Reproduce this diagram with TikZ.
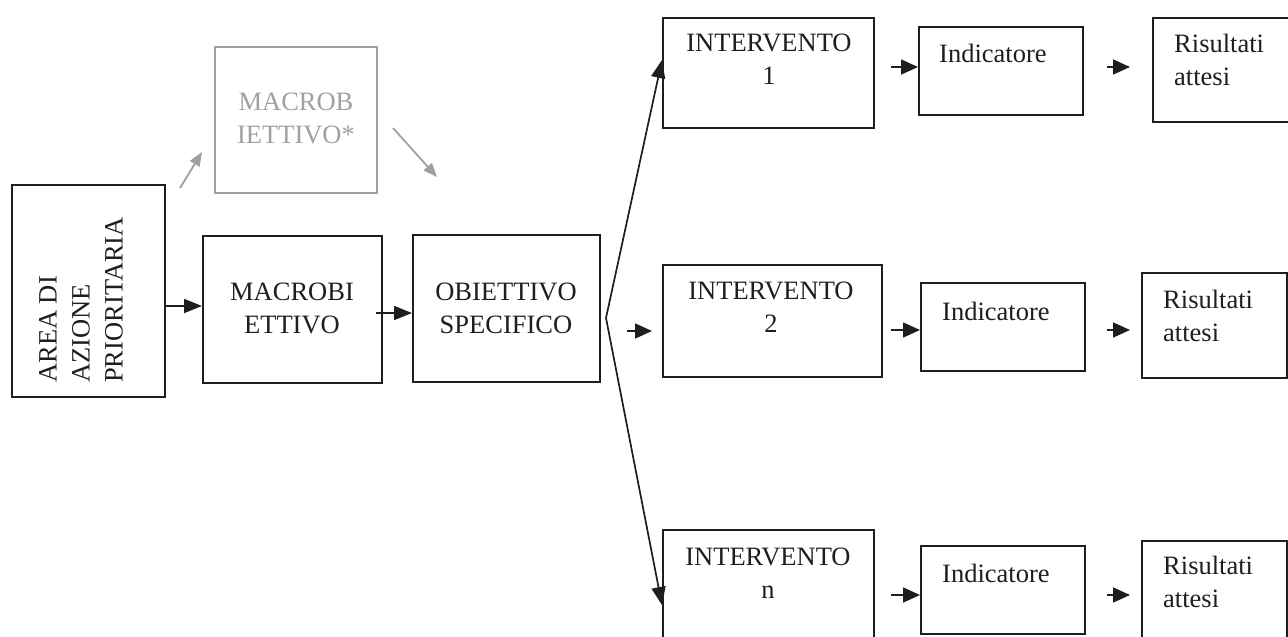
\documentclass[tikz,border=0pt]{standalone}
\usepackage{fontspec}
\setmainfont{Liberation Serif}
\usetikzlibrary{arrows.meta}
\definecolor{ink}{RGB}{30,30,30}
\definecolor{lgray}{RGB}{160,160,160}
\begin{document}
\begin{tikzpicture}[x=1pt,y=-1pt,
  box/.style={draw=ink, line width=2pt, inner sep=0pt, rectangle},
  gbox/.style={draw=lgray, line width=2pt, inner sep=0pt, rectangle},
  lbl/.style={font=\fontsize{26.5}{33}\selectfont, text=ink, align=center, inner sep=0pt},
  glbl/.style={lbl, text=lgray},
  llbl/.style={lbl, align=left},
  arr/.style={draw=ink, line width=1.7pt, -{Triangle[length=18pt,width=14pt]}},
  sarr/.style={draw=ink, line width=1.6pt, -{Triangle[length=17pt,width=15pt]}},
  garr/.style={draw=lgray, line width=1.8pt, -{Triangle[length=14pt,width=11pt]}}
]
\useasboundingbox (0,0) rectangle (1288,637);

% left part
\node[box, minimum width=153pt, minimum height=212pt] (area) at (88.5,291) {};
\node[lbl, align=left, rotate=90, anchor=west] (tarea) at (81,383) {AREA DI\\AZIONE\\PRIORITARIA};

\node[box, minimum width=179pt, minimum height=147pt] (macro) at (292.5,309.5) {};
\node[lbl, anchor=base] (tmacro) at (292,333) {MACROBI\\ETTIVO};

\node[box, minimum width=187pt, minimum height=147pt] (obiet) at (506.5,308.5) {};
\node[lbl, anchor=base] (tobiet) at (506,333) {OBIETTIVO\\SPECIFICO};

\node[gbox, minimum width=162pt, minimum height=146pt] (gmacro) at (296,120) {};
\node[glbl, anchor=base] (tgmacro) at (296,143) {MACROB\\IETTIVO*};

% interventi
\node[box, minimum width=211pt, minimum height=110pt] (i1) at (768.5,73) {};
\node[lbl, anchor=base] (ti1) at (769,84) {INTERVENTO\\1};
\node[box, minimum width=219pt, minimum height=112pt] (i2) at (772.5,321) {};
\node[lbl, anchor=base] (ti2) at (771,332) {INTERVENTO\\2};
\node[box, minimum width=211pt, minimum height=130pt] (in) at (768.5,595) {};
\node[lbl, anchor=base] (tin) at (768,598) {INTERVENTO\\n};

% indicatori
\node[box, minimum width=164pt, minimum height=88pt] (ind1) at (1001,71) {};
\node[llbl, anchor=base west] (tind1) at (939,62) {Indicatore};
\node[box, minimum width=164pt, minimum height=88pt] (ind2) at (1003,327) {};
\node[llbl, anchor=base west] (tind2) at (942,320) {Indicatore};
\node[box, minimum width=164pt, minimum height=88pt] (ind3) at (1003,590) {};
\node[llbl, anchor=base west] (tind3) at (942,582) {Indicatore};

% risultati
\node[box, minimum width=137pt, minimum height=104pt] (r1) at (1221.5,70) {};
\node[llbl, anchor=base west] (tr1) at (1174,85) {Risultati\\attesi};
\node[box, minimum width=145pt, minimum height=105pt] (r2) at (1214.5,325.5) {};
\node[llbl, anchor=base west] (tr2) at (1163,341) {Risultati\\attesi};
\node[box, minimum width=145pt, minimum height=119pt] (r3) at (1214.5,600.5) {};
\node[llbl, anchor=base west] (tr3) at (1163,607) {Risultati\\attesi};

% connectors
\draw[arr] (area.east |- 0,306) -- (macro.west |- 0,306);
\coordinate (m0) at (376,313);
\draw[arr] (m0) -- (obiet.west |- m0);

\coordinate (g1a) at (180,188);
\coordinate (g1b) at (202,152);
\coordinate (g2a) at (393,128);
\coordinate (g2b) at (437,177);
\draw[garr] (g1a) -- (g1b);
\draw[garr] (g2a) -- (g2b);

\coordinate (fan) at (606,318);
\draw[arr] (fan) -- (i1.west |- 0,60);
\draw[arr] (fan) -- (in.west |- 0,605);
\coordinate (s2a) at (627,331);
\coordinate (s2b) at (652,331);
\draw[sarr] (s2a) -- (s2b);

\coordinate (a1) at (891,67);
\coordinate (b1) at (1107,67);
\coordinate (b1e) at (1130,67);
\draw[sarr] (a1) -- (ind1.west |- a1);
\draw[sarr] (b1) -- (b1e);
\coordinate (a2) at (891,330);
\coordinate (b2) at (1107,330);
\coordinate (b2e) at (1130,330);
\draw[sarr] (a2) -- (ind2.west |- a2);
\draw[sarr] (b2) -- (b2e);
\coordinate (a3) at (891,595);
\coordinate (b3) at (1107,595);
\coordinate (b3e) at (1130,595);
\draw[sarr] (a3) -- (ind3.west |- a3);
\draw[sarr] (b3) -- (b3e);
\end{tikzpicture}
\end{document}
